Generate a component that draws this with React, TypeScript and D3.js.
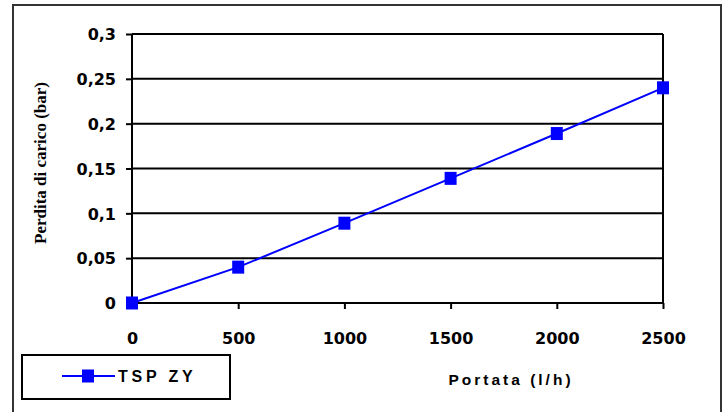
import * as d3 from "d3";
import { useEffect, useRef } from "react";

const flows = [0, 500, 1000, 1500, 2000, 2500];
const pressureDrop = [0, 0.04, 0.089, 0.139, 0.189, 0.24];
const yTicks = [0, 0.05, 0.1, 0.15, 0.2, 0.25, 0.3];
const xTicks = [0, 500, 1000, 1500, 2000, 2500];
const seriesName = "TSP ZY";
const xTitle = "Portata (l/h)";
const yTitle = "Perdita di carico (bar)";

export default function App() {
  const ref = useRef<SVGSVGElement>(null);

  useEffect(() => {
    const width = 723;
    const height = 412;
    const left = 132, right = 663, top = 34, bottom = 303;

    const svg = d3.select(ref.current);
    svg.selectAll("*").remove();
    svg.attr("width", width).attr("height", height);

    svg.append("rect")
      .attr("width", width).attr("height", height).attr("fill", "#fff");

    // outer chart frame
    svg.append("rect")
      .attr("x", 13).attr("y", 5)
      .attr("width", 708).attr("height", 420)
      .attr("fill", "none").attr("stroke", "#333").attr("stroke-width", 2);

    const x = d3.scaleLinear().domain([0, 2500]).range([left, right]);
    const y = d3.scaleLinear().domain([0, 0.3]).range([bottom, top]);

    const fmt = (v: number) => String(+v.toFixed(2)).replace(".", ",");

    // gridlines
    svg.append("g")
      .selectAll("line")
      .data(yTicks)
      .join("line")
      .attr("x1", left).attr("x2", right)
      .attr("y1", d => y(d)).attr("y2", d => y(d))
      .attr("stroke", "#000").attr("stroke-width", 2);

    // right border of plot area
    svg.append("line")
      .attr("x1", right).attr("x2", right)
      .attr("y1", top).attr("y2", bottom)
      .attr("stroke", "#000").attr("stroke-width", 2);

    const yAxis = svg.append("g")
      .attr("transform", `translate(${left},0)`)
      .call(d3.axisLeft(y).tickValues(yTicks).tickFormat(d => fmt(+d)).tickSize(6).tickPadding(10));
    yAxis.select(".domain").attr("stroke", "#000").attr("stroke-width", 2).attr("d", `M0,${top}V${bottom}`);
    yAxis.selectAll(".tick line").attr("stroke-width", 2);
    yAxis.selectAll("text")
      .attr("font-family", "DejaVu Sans").attr("font-weight", "bold")
      .attr("font-size", 16).attr("fill", "#000").attr("dy", "0.36em");

    const xAxis = svg.append("g")
      .attr("transform", `translate(0,${bottom})`)
      .call(d3.axisBottom(x).tickValues(xTicks).tickFormat(d => String(d)).tickSize(6).tickPadding(24));
    xAxis.select(".domain").attr("stroke", "#000").attr("stroke-width", 2).attr("d", `M${left},0H${right}`);
    xAxis.selectAll(".tick line").attr("stroke-width", 2);
    xAxis.selectAll("text")
      .attr("font-family", "DejaVu Sans").attr("font-weight", "bold")
      .attr("font-size", 16).attr("fill", "#000");

    const data = flows.map((f, i) => ({ f, p: pressureDrop[i] }));

    svg.append("path")
      .datum(data)
      .attr("fill", "none").attr("stroke", "#0000ff").attr("stroke-width", 2)
      .attr("d", d3.line<{ f: number; p: number }>().x(d => x(d.f)).y(d => y(d.p)));

    svg.append("g")
      .selectAll("rect")
      .data(data)
      .join("rect")
      .attr("x", d => x(d.f) - 6).attr("y", d => y(d.p) - 6.5)
      .attr("width", 12).attr("height", 13)
      .attr("fill", "#0000ff");

    // axis titles
    svg.append("text")
      .attr("x", 511).attr("y", 385)
      .attr("text-anchor", "middle")
      .attr("font-family", "Liberation Sans").attr("font-weight", "bold")
      .attr("font-size", 15.5).attr("letter-spacing", 3)
      .text(xTitle);

    svg.append("text")
      .attr("transform", "translate(46,163) rotate(-90)")
      .attr("text-anchor", "middle")
      .attr("font-family", "Liberation Serif").attr("font-weight", "bold")
      .attr("font-size", 17)
      .text(yTitle);

    // legend
    const lg = svg.append("g");
    lg.append("rect")
      .attr("x", 22).attr("y", 355).attr("width", 208).attr("height", 44)
      .attr("fill", "#fff").attr("stroke", "#000").attr("stroke-width", 2);
    lg.append("line")
      .attr("x1", 62).attr("x2", 115).attr("y1", 376).attr("y2", 376)
      .attr("stroke", "#0000ff").attr("stroke-width", 2);
    lg.append("rect")
      .attr("x", 82).attr("y", 369.5).attr("width", 12).attr("height", 13)
      .attr("fill", "#0000ff");
    lg.append("text")
      .attr("x", 118).attr("y", 382)
      .attr("font-family", "Liberation Sans").attr("font-weight", "bold")
      .attr("font-size", 16).attr("letter-spacing", 3.8)
      .text(seriesName);
  }, []);

  return <svg ref={ref} style={{ position: "absolute", left: 0, top: 0 }} />;
}
